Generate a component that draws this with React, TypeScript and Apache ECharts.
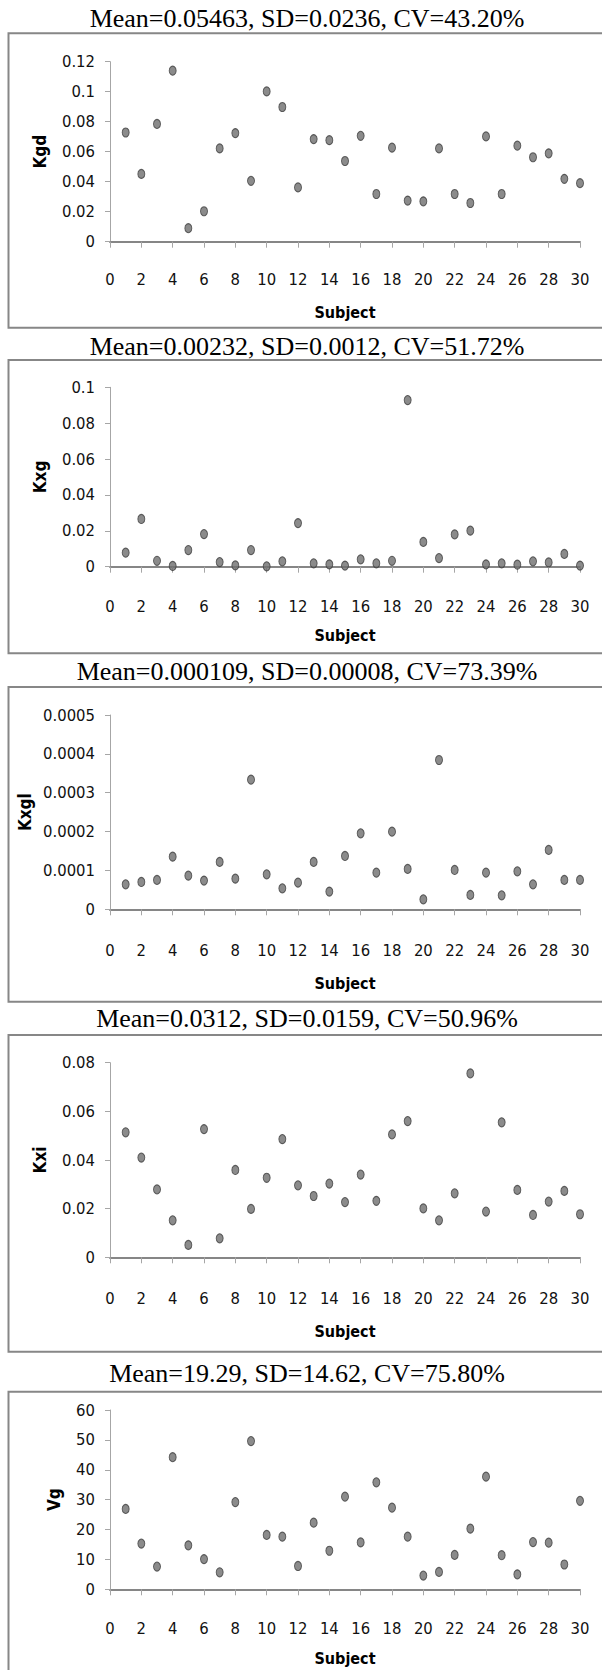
import React, { useEffect, useRef } from "react";
import * as echarts from "echarts";

// ---- data ----
const subjects = [1, 2, 3, 4, 5, 6, 7, 8, 9, 10, 11, 12, 13, 14, 15, 16, 17, 18, 19, 20, 21, 22, 23, 24, 25, 26, 27, 28, 29, 30];

const kgd = [0.0728, 0.0452, 0.0785, 0.114, 0.009, 0.0203, 0.0622, 0.0724, 0.0406, 0.1002, 0.0898, 0.0362, 0.0684, 0.0677, 0.0538, 0.0706, 0.0318, 0.0627, 0.0274, 0.0269, 0.0622, 0.0318, 0.0258, 0.0702, 0.0318, 0.064, 0.0563, 0.0589, 0.0419, 0.039];
const kxg = [0.0078, 0.0266, 0.0033, 0.0004, 0.0093, 0.0182, 0.0026, 0.0007, 0.0093, 0.0002, 0.003, 0.0243, 0.0019, 0.0013, 0.0006, 0.0041, 0.0019, 0.0033, 0.0929, 0.0138, 0.0048, 0.018, 0.0201, 0.0013, 0.0019, 0.0011, 0.003, 0.0024, 0.0071, 0.0006];
const kxgl = [0.0000643, 0.0000703, 0.0000755, 0.0001355, 0.0000866, 0.0000738, 0.0001218, 0.0000789, 0.0003336, 0.00009, 0.000054, 0.0000686, 0.0001218, 0.0000455, 0.0001372, 0.0001955, 0.0000943, 0.0001998, 0.0001038, 0.0000257, 0.0003842, 0.0001012, 0.0000369, 0.0000943, 0.000036, 0.0000978, 0.0000643, 0.0001527, 0.0000755, 0.0000755];
const kxi = [0.0514, 0.041, 0.0279, 0.0152, 0.0051, 0.0527, 0.0078, 0.0359, 0.0199, 0.0327, 0.0486, 0.0296, 0.0252, 0.0303, 0.0227, 0.034, 0.0232, 0.0505, 0.056, 0.0201, 0.0152, 0.0263, 0.0756, 0.0188, 0.0555, 0.0277, 0.0174, 0.0229, 0.0273, 0.0177];
const vg = [26.9, 15.3, 7.6, 44.2, 14.7, 10.1, 5.7, 29.2, 49.6, 18.2, 17.6, 7.8, 22.3, 12.9, 31.0, 15.7, 35.8, 27.3, 17.6, 4.6, 5.8, 11.5, 20.3, 37.7, 11.4, 5.0, 15.8, 15.6, 8.3, 29.6];

const titles = [
  "Mean=0.05463, SD=0.0236, CV=43.20%",
  "Mean=0.00232, SD=0.0012, CV=51.72%",
  "Mean=0.000109, SD=0.00008, CV=73.39%",
  "Mean=0.0312, SD=0.0159, CV=50.96%",
  "Mean=19.29, SD=14.62, CV=75.80%",
];
const yNames = ["Kgd", "Kxg", "Kxgl", "Kxi", "Vg"];
const seriesValues = [kgd, kxg, kxgl, kxi, vg];
const yMax = [0.12, 0.1, 0.0005, 0.08, 60];
const yInterval = [0.02, 0.02, 0.0001, 0.02, 10];
const xName = "Subject";
const xMin = 0;
const xMax = 30;
const xInterval = 2;

// ---- layout (pixels) ----
const LAYOUT = [
  { titleY: 18.5, boxTop: 33.3, boxBottom: 327.7, gridTop: 61.7, gridBottom: 241.7, xLabelY: 279.5, subjectY: 312, yNameX: 40 },
  { titleY: 346.7, boxTop: 360, boxBottom: 653.3, gridTop: 387.3, gridBottom: 566.7, xLabelY: 606.7, subjectY: 635, yNameX: 40 },
  { titleY: 671, boxTop: 687, boxBottom: 1001.7, gridTop: 715, gridBottom: 909.3, xLabelY: 950, subjectY: 983.3, yNameX: 25 },
  { titleY: 1018.3, boxTop: 1035, boxBottom: 1351.7, gridTop: 1062.7, gridBottom: 1257.3, xLabelY: 1298.3, subjectY: 1331, yNameX: 40 },
  { titleY: 1373.3, boxTop: 1391.7, boxBottom: 1720, gridTop: 1410, gridBottom: 1589.3, xLabelY: 1628.3, subjectY: 1658.3, yNameX: 54 },
];
const GRID_LEFT = 110;
const GRID_WIDTH = 470;
const SANS = "'Liberation Sans Narrow', 'DejaVu Sans Condensed', 'Roboto', sans-serif";
const SERIF = "'Liberation Serif', 'Times New Roman', serif";
const TICK_FONT = 16.5;

const fmt = (v: number) => String(parseFloat(Number(v).toPrecision(8)));

function buildOption() {
  const grid: any[] = [];
  const xAxis: any[] = [];
  const yAxis: any[] = [];
  const series: any[] = [];
  const graphic: any[] = [];

  LAYOUT.forEach((L, i) => {
    grid.push({
      left: GRID_LEFT,
      width: GRID_WIDTH,
      top: L.gridTop,
      height: L.gridBottom - L.gridTop,
      containLabel: false,
    });
    xAxis.push({
      type: "value",
      gridIndex: i,
      min: xMin,
      max: xMax,
      interval: xInterval,
      axisLine: { show: true, onZero: false, lineStyle: { color: "#868686", width: 2 } },
      axisTick: { show: true, length: 6, lineStyle: { color: "#a6a6a6", width: 1 } },
      axisLabel: {
        margin: L.xLabelY - L.gridBottom - TICK_FONT / 2,
        fontFamily: SANS,
        fontSize: TICK_FONT,
        color: "#111",
      },
      splitLine: { show: false },
    });
    yAxis.push({
      type: "value",
      gridIndex: i,
      min: 0,
      max: yMax[i],
      interval: yInterval[i],
      axisLine: { show: true, onZero: false, lineStyle: { color: "#a6a6a6", width: 1 } },
      axisTick: { show: true, length: 5, lineStyle: { color: "#a6a6a6", width: 1 } },
      axisLabel: {
        margin: 15,
        fontFamily: SANS,
        fontSize: TICK_FONT,
        color: "#111",
        formatter: fmt,
      },
      splitLine: { show: false },
    });
    series.push({
      type: "scatter",
      xAxisIndex: i,
      yAxisIndex: i,
      symbol: "circle",
      symbolSize: [7, 9],
      itemStyle: { color: "#6e6e6e", borderColor: "#3c3c3c", borderWidth: 1 },
      data: subjects.map((s, k) => [s, seriesValues[i][k]]),
    });

    graphic.push({
      type: "rect",
      shape: { x: 8.5, y: L.boxTop, width: 640, height: L.boxBottom - L.boxTop },
      style: { fill: "none", stroke: "#878787", lineWidth: 2 },
      silent: true,
    });
    graphic.push({
      type: "text",
      x: 307,
      y: L.titleY,
      style: {
        text: titles[i],
        fontFamily: SERIF,
        fontSize: 26,
        fill: "#000",
        align: "center",
        verticalAlign: "middle",
        textAlign: "center",
        textVerticalAlign: "middle",
      },
      silent: true,
    });
    graphic.push({
      type: "text",
      x: GRID_LEFT + GRID_WIDTH / 2,
      y: L.subjectY,
      style: {
        text: xName,
        fontFamily: SANS,
        fontWeight: "bold",
        fontSize: 16,
        fill: "#000",
        align: "center",
        verticalAlign: "middle",
        textAlign: "center",
        textVerticalAlign: "middle",
      },
      silent: true,
    });
    graphic.push({
      type: "text",
      x: L.yNameX,
      y: (L.gridTop + L.gridBottom) / 2,
      rotation: Math.PI / 2,
      style: {
        text: yNames[i],
        fontFamily: SANS,
        fontWeight: "bold",
        fontSize: 17,
        fill: "#000",
        align: "center",
        verticalAlign: "middle",
        textAlign: "center",
        textVerticalAlign: "middle",
      },
      silent: true,
    });
  });

  return {
    animation: false,
    backgroundColor: "#fff",
    grid,
    xAxis,
    yAxis,
    series,
    graphic: { elements: graphic },
  };
}

export default function App() {
  const ref = useRef<HTMLDivElement>(null);
  useEffect(() => {
    if (!ref.current) return;
    const chart = echarts.init(ref.current, undefined, { renderer: "svg" });
    chart.setOption(buildOption() as any);
    return () => chart.dispose();
  }, []);
  return (
    <div
      ref={ref}
      style={{ position: "absolute", left: 0, top: 0, width: 602, height: 1670, background: "#fff" }}
    />
  );
}
